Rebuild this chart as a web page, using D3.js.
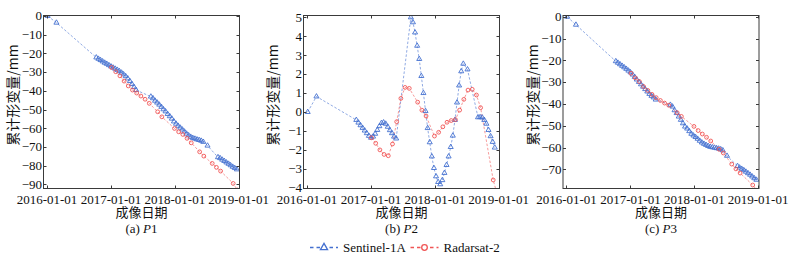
<!DOCTYPE html>
<html><head><meta charset="utf-8">
<script src="https://cdn.jsdelivr.net/npm/d3@7"></script>
<style>
html,body{margin:0;padding:0;background:#fff;}
svg{display:block;}
</style></head>
<body>
<svg id="chart" width="806" height="256"></svg>
<script>
// ---------------- data ----------------
const xTickLabels = ["2016-01-01", "2017-01-01", "2018-01-01", "2019-01-01"];
const seriesNames = ["Sentinel-1A", "Radarsat-2"];
const panelCaptions = [["(a) ", "P", "1"], ["(b) ", "P", "2"], ["(c) ", "P", "3"]];
const yLabel = "累计形变量/mm";
const xLabel = "成像日期";

const yTicksP1 = [0, -10, -20, -30, -40, -50, -60, -70, -80, -90];
const yTicksP2 = [5, 4, 3, 2, 1, 0, -1, -2, -3, -4];
const yTicksP3 = [0, -10, -20, -30, -40, -50, -60, -70];
const yDomainP1 = [-92.2, 0.25];
const yDomainP2 = [-4.04, 5.1];
const yDomainP3 = [-78.8, 0.6];

const sentinelDates = [
  "2016-01-05", "2016-02-24",
  "2016-10-09", "2016-10-21", "2016-11-02", "2016-11-14", "2016-11-26", "2016-12-08", "2016-12-20",
  "2017-01-01", "2017-01-13", "2017-01-25", "2017-02-06", "2017-02-18", "2017-03-02", "2017-03-14",
  "2017-03-26", "2017-04-07", "2017-04-19", "2017-05-01", "2017-05-13", "2017-05-25",
  "2017-08-17", "2017-08-29", "2017-09-10", "2017-09-22", "2017-10-04", "2017-10-16", "2017-10-28",
  "2017-11-09", "2017-11-21", "2017-12-03", "2017-12-15", "2017-12-27", "2018-01-08", "2018-01-20",
  "2018-02-01", "2018-02-13", "2018-02-25", "2018-03-09", "2018-03-21", "2018-04-02", "2018-04-14",
  "2018-04-26", "2018-05-08", "2018-05-20", "2018-06-01", "2018-06-13", "2018-07-07",
  "2018-09-05", "2018-09-17", "2018-09-29", "2018-10-11", "2018-10-23", "2018-11-04", "2018-11-16",
  "2018-11-28", "2018-12-10", "2018-12-22"
];
const sentinelP1 = [
  0, -3.6,
  -22.2, -22.9, -23.6, -24.3, -25.0, -25.6, -26.3, -27.0, -27.6, -28.2, -28.8, -29.5, -30.3, -31.2,
  -32.2, -33.4, -34.8, -36.4, -38.0, -39.6,
  -43.1, -44.0, -45.3, -46.3, -47.4, -48.6, -49.9, -51.0, -52.4, -53.6, -54.9, -56.4, -57.6, -58.7,
  -59.7, -60.7, -61.8, -62.9, -63.8, -64.6, -65.2, -65.6, -66.0, -66.3, -66.7, -67.3, -69.3,
  -75.5, -76.0, -76.8, -77.5, -78.3, -79.0, -79.8, -80.6, -81.3, -82.0
];
const sentinelP2 = [
  0, 0.82,
  -0.42, -0.56, -0.70, -0.84, -0.98, -1.12, -1.26, -1.36, -1.30, -1.15, -0.95, -0.75, -0.58, -0.55,
  -0.62, -0.78, -0.96, -1.12, -1.30, -1.40,
  5.0, 4.74, 4.2, 3.5, 2.8, 1.9, 1.0, 0.05, -0.85, -1.6, -2.35, -2.96, -3.4, -3.7,
  -3.82, -3.6, -3.22, -2.8, -2.35, -1.85, -1.25, -0.42, 0.5, 1.4, 2.15, 2.55, 2.25,
  -0.28, -0.27, -0.29, -0.42, -0.62, -0.95, -1.28, -1.58, -1.88, null
];
const sentinelP3 = [
  0, -3.65,
  -20.4, -21.1, -21.8, -22.5, -23.2, -23.9, -24.7, -25.5, -26.5, -27.6, -28.8, -29.9, -31.0, -32.1,
  -33.2, -34.3, -35.4, -36.3, -37.0, -38.0,
  -40.4, -41.2, -42.9, -44.2, -45.8, -47.3, -48.9, -50.4, -51.3, -52.5, -53.7, -54.5, -55.2, -56.0,
  -56.9, -57.7, -58.3, -58.8, -59.3, -59.7, -59.9, -60.1, -60.3, -60.5, -60.8, -61.3, -63.8,
  -68.5, -69.2, -69.8, -70.4, -71.1, -71.8, -72.5, -73.3, -74.1, -74.8
];

const radarsatDates = [
  "2017-01-04", "2017-01-28", "2017-02-21", "2017-03-17", "2017-04-10", "2017-05-04", "2017-05-28",
  "2017-06-21", "2017-07-15", "2017-08-08", "2017-09-01", "2017-09-25", "2017-10-19", "2017-11-12",
  "2017-12-06", "2017-12-30", "2018-01-23", "2018-02-16", "2018-03-12", "2018-04-05", "2018-04-29",
  "2018-05-23", "2018-06-16", "2018-07-10", "2018-08-03", "2018-08-27", "2018-09-20", "2018-10-14",
  "2018-11-07", "2018-12-01", "2018-12-25"
];
const radarsatP1 = [
  -27.5, -29.8, -32.0, -34.8, -37.4, -39.6, -41.2, -42.8, -44.5, -46.7, null, -51.2, -53.9, null,
  null, -60.1, -61.9, -63.3, -65.4, -67.8, null, -72.6, -74.9, null, -78.8, -80.9, -82.9, null,
  null, -89.5, -93.0
];
const radarsatP2 = [
  -1.36, -1.65, -2.0, -2.24, -2.31, -1.69, -0.51, 0.72, 1.30, 1.25, null, 0.52, 0.10, -0.21,
  null, -1.27, -1.07, -0.78, -0.54, -0.45, -0.40, 0.10, 0.67, 1.16, 1.20, 0.90, 0.23, null,
  null, -3.59, -4.4
];
const radarsatP3 = [
  -25.9, -28.0, -29.7, -32.0, -33.8, -35.6, -37.1, -38.4, -39.6, -40.6, null, -44.0, -45.7, null,
  null, -50.3, -52.2, -53.8, -55.3, -57.0, null, -60.8, -62.5, null, -67.6, -69.8, -71.7, null,
  null, -77.2, -79.6
];

// ---------------- drawing ----------------
const parse = d3.timeParse("%Y-%m-%d");
const svg = d3.select("#chart");
const serif = "'Liberation Serif','Times New Roman',serif";
const cjk = "'Noto Sans CJK SC','Noto Sans CJK JP',sans-serif";
const blue = "#4470d0";
const red = "#f05555";
const axisColor = "#3a3a3a";

const panels = [
  {left: 43.5, sVals: sentinelP1, rVals: radarsatP1, yTicks: yTicksP1, yDomain: yDomainP1, cap: panelCaptions[0]},
  {left: 303.5, sVals: sentinelP2, rVals: radarsatP2, yTicks: yTicksP2, yDomain: yDomainP2, cap: panelCaptions[1]},
  {left: 563, sVals: sentinelP3, rVals: radarsatP3, yTicks: yTicksP3, yDomain: yDomainP3, cap: panelCaptions[2]}
];
const pw = 196, plotTop = 15.5, ph = 173;
const tickLen = 3;
const xTickDates = xTickLabels.map(parse);

function pairs(dates, vals) {
  return dates.map((d, i) => ({d: parse(d), v: vals[i]})).filter(p => p.v !== null && p.v !== undefined);
}

panels.forEach((p, pi) => {
  const x = d3.scaleTime().domain([new Date(2015, 11, 12), new Date(2019, 0, 6)]).range([p.left, p.left + pw]);
  const y = d3.scaleLinear().domain(p.yDomain).range([plotTop + ph, plotTop]);
  const g = svg.append("g");
  const clipId = "clip" + pi;
  svg.append("clipPath").attr("id", clipId).append("rect")
    .attr("x", p.left).attr("y", plotTop).attr("width", pw).attr("height", ph);

  const plot = g.append("g").attr("clip-path", `url(#${clipId})`);
  const line = d3.line().x(d => x(d.d)).y(d => y(d.v));
  const sData = pairs(sentinelDates, p.sVals);
  const rData = pairs(radarsatDates, p.rVals);

  plot.append("path").datum(sData).attr("d", line)
    .attr("fill", "none").attr("stroke", blue).attr("stroke-width", 0.8)
    .attr("stroke-dasharray", "2.5,1.8").attr("opacity", 0.75);
  plot.append("path").datum(rData).attr("d", line)
    .attr("fill", "none").attr("stroke", red).attr("stroke-width", 0.8)
    .attr("stroke-dasharray", "2.5,1.8").attr("opacity", 0.75);

  const tri = d3.symbol().type(d3.symbolTriangle).size(11);
  plot.selectAll(".s").data(sData).enter().append("path")
    .attr("d", tri).attr("transform", d => `translate(${x(d.d)},${y(d.v)})`)
    .attr("fill", "none").attr("stroke", blue).attr("stroke-width", 0.9);
  plot.selectAll(".r").data(rData).enter().append("circle")
    .attr("cx", d => x(d.d)).attr("cy", d => y(d.v)).attr("r", 1.9)
    .attr("fill", "none").attr("stroke", red).attr("stroke-width", 0.9);

  g.append("rect").attr("x", p.left).attr("y", plotTop).attr("width", pw).attr("height", ph)
    .attr("fill", "none").attr("stroke", axisColor).attr("stroke-width", 1);

  xTickDates.forEach((d, i) => {
    const xx = Math.round(x(d)) + 0.5;
    g.append("line").attr("x1", xx).attr("x2", xx).attr("y1", plotTop + ph).attr("y2", plotTop + ph - tickLen)
      .attr("stroke", axisColor);
    g.append("line").attr("x1", xx).attr("x2", xx).attr("y1", plotTop).attr("y2", plotTop + tickLen)
      .attr("stroke", axisColor);
    g.append("text").attr("x", x(d)).attr("y", plotTop + ph + 15.5)
      .attr("text-anchor", "middle").style("font-family", serif).attr("font-size", 13)
      .attr("fill", "#111").text(xTickLabels[i]);
  });
  p.yTicks.forEach(t => {
    const yy = Math.round(y(t)) + 0.5;
    g.append("line").attr("x1", p.left).attr("x2", p.left + tickLen).attr("y1", yy).attr("y2", yy)
      .attr("stroke", axisColor);
    g.append("line").attr("x1", p.left + pw).attr("x2", p.left + pw - tickLen).attr("y1", yy).attr("y2", yy)
      .attr("stroke", axisColor);
    g.append("text").attr("x", p.left - 1.5).attr("y", y(t)).attr("dy", "0.33em")
      .attr("text-anchor", "end").style("font-family", serif).attr("font-size", 13)
      .attr("fill", "#111").text(t < 0 ? "\u2212" + Math.abs(t) : String(t));
  });

  const cx = p.left + pw / 2;
  g.append("text").attr("x", cx).attr("y", 217).attr("text-anchor", "middle")
    .style("font-family", cjk).attr("font-size", 13).attr("fill", "#111").text(xLabel);
  const cap = g.append("text").attr("x", cx).attr("y", 232.5).attr("text-anchor", "middle")
    .style("font-family", serif).attr("font-size", 13).attr("fill", "#111");
  cap.append("tspan").text(p.cap[0]);
  cap.append("tspan").attr("font-style", "italic").text(p.cap[1]);
  cap.append("tspan").text(p.cap[2]);

  const ylx = p.left - 30;
  g.append("text").attr("transform", `translate(${ylx},${plotTop + ph / 2 - 7}) rotate(-90)`)
    .attr("text-anchor", "middle").attr("dy", "0.35em")
    .style("font-family", cjk).attr("font-size", 14).attr("fill", "#111").text(yLabel);
});

const lg = svg.append("g");
const legendItems = [
  {name: seriesNames[0], color: blue, x0: 310, shape: "tri"},
  {name: seriesNames[1], color: red, x0: 410.5, shape: "circ"}
];
const ly = 247.5;
legendItems.forEach(it => {
  lg.append("line").attr("x1", it.x0).attr("x2", it.x0 + 28).attr("y1", ly).attr("y2", ly)
    .attr("stroke", it.color).attr("stroke-width", 1.4).attr("stroke-dasharray", "3.5,3");
  if (it.shape === "tri") {
    lg.append("path").attr("d", d3.symbol().type(d3.symbolTriangle).size(22)())
      .attr("transform", `translate(${it.x0 + 14},${ly})`)
      .attr("fill", "#fff").attr("stroke", it.color).attr("stroke-width", 1.3);
  } else {
    lg.append("circle").attr("cx", it.x0 + 14).attr("cy", ly).attr("r", 2.8)
      .attr("fill", "#fff").attr("stroke", it.color).attr("stroke-width", 1.3);
  }
  lg.append("text").attr("x", it.x0 + 33).attr("y", ly).attr("dy", "0.35em")
    .style("font-family", serif).attr("font-size", 13).attr("fill", "#111").text(it.name);
});
</script>
</body></html>
